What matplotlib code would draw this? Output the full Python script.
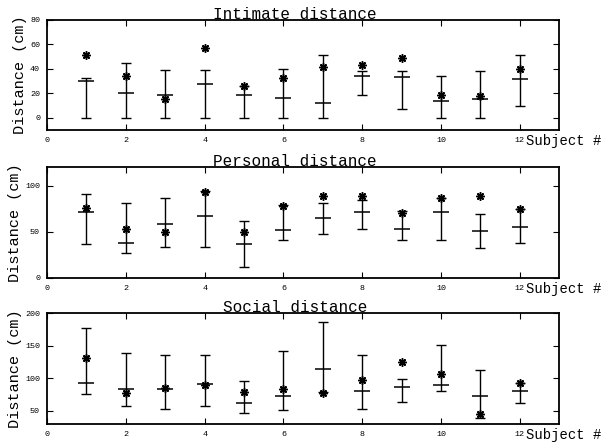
import numpy as np
import matplotlib
matplotlib.use("Agg")
import matplotlib.pyplot as plt
import matplotlib.transforms as mtransforms

subjects = np.arange(1, 13)

# intimate distance
int_mean = [30, 20, 18.6, 27.8, 18.6, 16, 11.9, 34, 33, 14, 15.1, 31.9]
int_low = [0, 0, 0, 0, 0, 0, 0, 18.6, 7, 0, 0, 9.7]
int_high = [32, 44.9, 38.6, 38.6, 25.7, 39.5, 50.8, 38.1, 38.1, 33.8, 38.1, 50.8]
int_star = [51.1, 33.8, 14.9, 56.5, 25.7, 32.2, 41.1, 43, 48.4, 18.4, 17.3, 39.7]

# personal distance
per_mean = [71.2, 38.1, 58.3, 66.9, 36.3, 52.2, 65.1, 71.2, 52.9, 71.2, 50.4, 55]
per_low = [37, 26.3, 33.8, 33.8, 11.2, 41, 47.8, 52.9, 41.4, 41.4, 32.4, 38.1]
per_high = [91, 81.3, 87, 93.9, 61.2, 79.1, 81.3, 84.9, 73, 87, 69.4, 74.8]
per_star = [75.9, 52.5, 49.3, 93.2, 50, 77.7, 89.2, 88.5, 70.5, 87, 89.2, 74.8]

# social distance
soc_mean = [92.8, 84, 84, 91.8, 61.3, 73.2, 113.4, 79.9, 87.1, 89.7, 72.2, 79.9]
soc_low = [75.3, 56.7, 52.6, 56.7, 46.9, 50.5, 79, 53.1, 63.9, 79.9, 38.1, 61.3]
soc_high = [176.8, 138.1, 136, 136, 95.9, 142.3, 186, 135, 98.5, 150.5, 111.9, 92.8]
soc_star = [130.9, 77.3, 85, 89.7, 78.4, 84, 76.8, 96.9, 124.7, 105.7, 44.3, 92.8]

panels = [
    ("Intimate distance", int_mean, int_low, int_high, int_star, (-10, 80), [0, 20, 40, 60, 80]),
    ("Personal distance", per_mean, per_low, per_high, per_star, (0, 120), [0, 50, 100]),
    ("Social distance", soc_mean, soc_low, soc_high, soc_star, (30, 200), [50, 100, 150, 200]),
]

mono = "Liberation Mono"
fig = plt.figure(figsize=(6.02, 4.45), dpi=100)
bottoms = [0.708, 0.376, 0.048]

for (title, mean, low, high, star, ylim, yticks), b in zip(panels, bottoms):
    ax = fig.add_axes([0.078, b, 0.851, 0.248])
    mean = np.array(mean)
    yerr = [mean - np.array(low), np.array(high) - mean]
    ax.errorbar(subjects, mean, yerr=yerr, fmt="none", ecolor="black",
                elinewidth=1.0, capsize=3.3, capthick=1.0)
    ax.plot(subjects, mean, ls="none", marker="_", ms=11, mew=1.1, color="black")
    ax.plot(subjects, star, ls="none", marker=(8, 2, 0), ms=6, mew=1.1, color="black")
    ax.set_xlim(0, 13)
    ax.set_ylim(*ylim)
    ax.set_xticks([0, 2, 4, 6, 8, 10, 12])
    ax.set_yticks(yticks)
    ax.tick_params(direction="in", top=True, right=True, length=4, width=0.8,
                   labelsize=6, pad=5)
    for lab in ax.get_xticklabels() + ax.get_yticklabels():
        lab.set_family(mono)
    for s in ax.spines.values():
        s.set_linewidth(1.3)
    ax.text(0.484, 1.008, title, transform=ax.transAxes, fontsize=11.5,
            family=mono, ha="center", va="baseline")
    ax.set_ylabel("Distance (cm)", fontsize=11, family=mono, labelpad=2)
    trans = mtransforms.blended_transform_factory(ax.transData, ax.transAxes)
    ax.text(12.15, -0.1, "Subject #", transform=trans, fontsize=10,
            family=mono, ha="left", va="center")

fig.savefig("out.png", dpi=100)
